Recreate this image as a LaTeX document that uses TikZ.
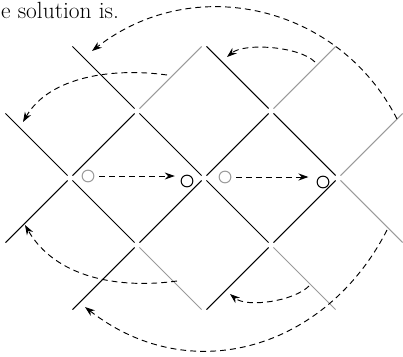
\documentclass[tikz,border=0pt]{standalone}
\usepackage{tikz}
\usetikzlibrary{arrows.meta,calc,positioning}
\definecolor{edgegray}{HTML}{9A9A9A}

\begin{document}
\begin{tikzpicture}[x=0.03cm,y=0.03cm,>={Stealth[length=8.5pt,width=6pt]},
    bodyline/.style={line width=0.9pt,shorten <=3pt,shorten >=3pt},
    rimline/.style={bodyline,edgegray},
    wraparrow/.style={->,line width=0.8pt,dash pattern=on 5pt off 3.5pt},
    spot/.style={circle,draw,line width=0.9pt,minimum size=10pt,inner sep=0pt}]
        \useasboundingbox (0,0) rectangle (403,356);
        \clip (0,0) rectangle (403,356);
        \node[anchor=base west,inner sep=0pt,font=\fontsize{20}{24}\selectfont] (title) at (1,337) {e solution is.};
        % lattice points, 67 apart
        \foreach \i in {0,...,6}
          \foreach \j in {0,...,4}
            \coordinate (v\i\j) at (3+67*\i,44+67*\j);
        \foreach \a/\b in {14/23,34/43,03/12,12/23,23/32,32/43,43/52,01/12,12/21,21/32,32/41,41/52,10/21,30/41}
          \draw[bodyline] (v\a) -- (v\b);
        \foreach \a/\b in {23/34,43/54,52/63,52/61,21/30,41/50}
          \draw[rimline] (v\a) -- (v\b);
        % particles
        \node[spot,draw=edgegray] (src1) at (88,180) {};
        \node[spot] (dst1) at (187,175) {};
        \node[spot,draw=edgegray] (src2) at (225,179) {};
        \node[spot] (dst2) at (323,174) {};
        \draw[wraparrow,shorten <=4pt,shorten >=5pt] (src1) -- (src1 -| dst1.west);
        \draw[wraparrow,shorten <=4pt,shorten >=7pt] (src2) -- (src2 -| dst2.west);
        % wrap-around moves
        \coordinate (fromA) at (397,237); \coordinate (toA) at (92,305);
        \coordinate (fromB) at (315,294); \coordinate (toB) at (227,299);
        \coordinate (fromC) at (167,281); \coordinate (toC) at (23,234);
        \coordinate (fromD) at (309,70);  \coordinate (toD) at (230,62);
        \coordinate (fromE) at (177,75);  \coordinate (toE) at (25,131);
        \coordinate (fromF) at (387,126); \coordinate (toF) at (85,49);
        \draw[wraparrow] (fromA) to[out=117,in=38,looseness=1.05] (toA);
        \draw[wraparrow] (fromB) to[out=135,in=40,looseness=0.65] (toB);
        \draw[wraparrow] (fromC) to[out=172,in=60,looseness=0.9] (toC);
        \draw[wraparrow] (fromD) to[out=225,in=-40,looseness=0.7] (toD);
        \draw[wraparrow] (fromE) to[out=188,in=-60,looseness=0.95] (toE);
        \draw[wraparrow] (fromF) to[out=-117,in=-38,looseness=1.1] (toF);
      \end{tikzpicture}
\end{document}
